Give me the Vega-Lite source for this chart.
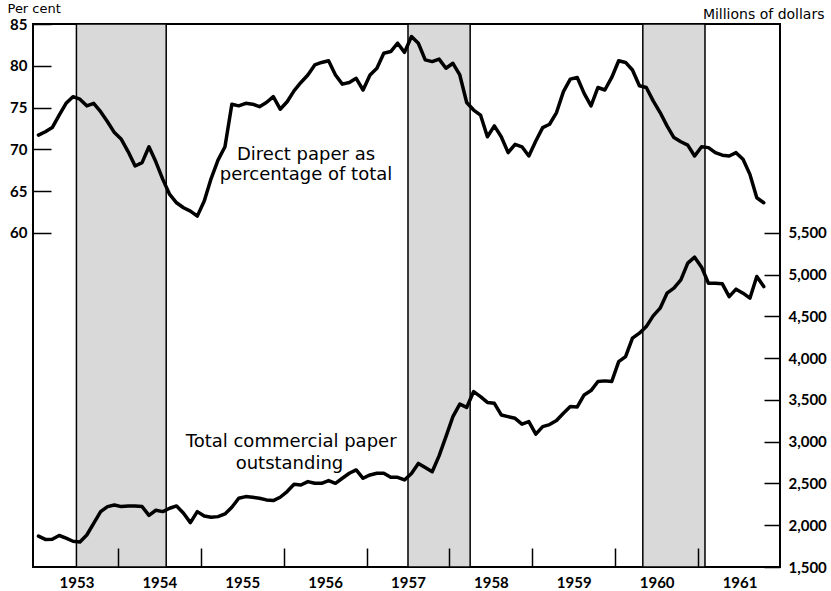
{
  "$schema": "https://vega.github.io/schema/vega-lite/v6.json",
  "width": 747,
  "height": 543,
  "autosize": {"type": "none"},
  "padding": {"left": 33, "top": 24, "right": 51, "bottom": 24},
  "background": "white",
  "config": {"view": {"stroke": "black", "strokeWidth": 2}, "font": "DejaVu Sans"},
  "datasets": {
    "bands": [
      {"t": 1953.5, "t2": 1954.583},
      {"t": 1957.5, "t2": 1958.25},
      {"t": 1960.333, "t2": 1961.083}
    ],
    "pctNotes": [
      {"t": 1956.27, "pct": 69.3, "label": "Direct paper as"},
      {"t": 1956.27, "pct": 66.9, "label": "percentage of total"}
    ],
    "totalNotes": [
      {"t": 1956.09, "total": 2996, "label": "Total commercial paper"},
      {"t": 1956.07, "total": 2732, "label": "outstanding"}
    ],
    "series": [
      {"t": 1953.042, "pct": 71.7, "total": 1870},
      {"t": 1953.125, "pct": 72.1, "total": 1830},
      {"t": 1953.208, "pct": 72.6, "total": 1832},
      {"t": 1953.292, "pct": 74.1, "total": 1877},
      {"t": 1953.375, "pct": 75.5, "total": 1845},
      {"t": 1953.458, "pct": 76.3, "total": 1808},
      {"t": 1953.542, "pct": 76.0, "total": 1800},
      {"t": 1953.625, "pct": 75.2, "total": 1883},
      {"t": 1953.708, "pct": 75.5, "total": 2023},
      {"t": 1953.792, "pct": 74.5, "total": 2163},
      {"t": 1953.875, "pct": 73.3, "total": 2223},
      {"t": 1953.958, "pct": 72.0, "total": 2243},
      {"t": 1954.042, "pct": 71.2, "total": 2223},
      {"t": 1954.125, "pct": 69.7, "total": 2231},
      {"t": 1954.208, "pct": 68.0, "total": 2231},
      {"t": 1954.292, "pct": 68.4, "total": 2223},
      {"t": 1954.375, "pct": 70.3, "total": 2119},
      {"t": 1954.458, "pct": 68.5, "total": 2179},
      {"t": 1954.542, "pct": 66.4, "total": 2163},
      {"t": 1954.625, "pct": 64.6, "total": 2203},
      {"t": 1954.708, "pct": 63.6, "total": 2231},
      {"t": 1954.792, "pct": 63.0, "total": 2143},
      {"t": 1954.875, "pct": 62.6, "total": 2031},
      {"t": 1954.958, "pct": 62.0, "total": 2163},
      {"t": 1955.042, "pct": 63.8, "total": 2111},
      {"t": 1955.125, "pct": 66.5, "total": 2095},
      {"t": 1955.208, "pct": 68.7, "total": 2103},
      {"t": 1955.292, "pct": 70.3, "total": 2135},
      {"t": 1955.375, "pct": 75.4, "total": 2215},
      {"t": 1955.458, "pct": 75.2, "total": 2323},
      {"t": 1955.542, "pct": 75.5, "total": 2343},
      {"t": 1955.625, "pct": 75.4, "total": 2335},
      {"t": 1955.708, "pct": 75.1, "total": 2323},
      {"t": 1955.792, "pct": 75.6, "total": 2303},
      {"t": 1955.875, "pct": 76.3, "total": 2295},
      {"t": 1955.958, "pct": 74.8, "total": 2335},
      {"t": 1956.042, "pct": 75.7, "total": 2403},
      {"t": 1956.125, "pct": 77.0, "total": 2490},
      {"t": 1956.208, "pct": 78.0, "total": 2482},
      {"t": 1956.292, "pct": 78.9, "total": 2522},
      {"t": 1956.375, "pct": 80.1, "total": 2502},
      {"t": 1956.458, "pct": 80.4, "total": 2502},
      {"t": 1956.542, "pct": 80.6, "total": 2534},
      {"t": 1956.625, "pct": 78.9, "total": 2502},
      {"t": 1956.708, "pct": 77.8, "total": 2562},
      {"t": 1956.792, "pct": 78.0, "total": 2622},
      {"t": 1956.875, "pct": 78.5, "total": 2662},
      {"t": 1956.958, "pct": 77.1, "total": 2562},
      {"t": 1957.042, "pct": 78.9, "total": 2602},
      {"t": 1957.125, "pct": 79.7, "total": 2622},
      {"t": 1957.208, "pct": 81.5, "total": 2622},
      {"t": 1957.292, "pct": 81.7, "total": 2574},
      {"t": 1957.375, "pct": 82.7, "total": 2574},
      {"t": 1957.458, "pct": 81.6, "total": 2542},
      {"t": 1957.542, "pct": 83.5, "total": 2620},
      {"t": 1957.625, "pct": 82.7, "total": 2740},
      {"t": 1957.708, "pct": 80.7, "total": 2690},
      {"t": 1957.792, "pct": 80.5, "total": 2640},
      {"t": 1957.875, "pct": 80.8, "total": 2830},
      {"t": 1957.958, "pct": 79.7, "total": 3060},
      {"t": 1958.042, "pct": 80.3, "total": 3300},
      {"t": 1958.125, "pct": 78.9, "total": 3450},
      {"t": 1958.208, "pct": 75.6, "total": 3410},
      {"t": 1958.292, "pct": 74.7, "total": 3600},
      {"t": 1958.375, "pct": 74.1, "total": 3540},
      {"t": 1958.458, "pct": 71.5, "total": 3470},
      {"t": 1958.542, "pct": 72.8, "total": 3460},
      {"t": 1958.625, "pct": 71.5, "total": 3320},
      {"t": 1958.708, "pct": 69.6, "total": 3300},
      {"t": 1958.792, "pct": 70.6, "total": 3280},
      {"t": 1958.875, "pct": 70.3, "total": 3210},
      {"t": 1958.958, "pct": 69.2, "total": 3240},
      {"t": 1959.042, "pct": 71.0, "total": 3090},
      {"t": 1959.125, "pct": 72.6, "total": 3181},
      {"t": 1959.208, "pct": 73.0, "total": 3205},
      {"t": 1959.292, "pct": 74.4, "total": 3253},
      {"t": 1959.375, "pct": 76.9, "total": 3340},
      {"t": 1959.458, "pct": 78.4, "total": 3420},
      {"t": 1959.542, "pct": 78.6, "total": 3416},
      {"t": 1959.625, "pct": 76.7, "total": 3560},
      {"t": 1959.708, "pct": 75.2, "total": 3612},
      {"t": 1959.792, "pct": 77.4, "total": 3720},
      {"t": 1959.875, "pct": 77.1, "total": 3728},
      {"t": 1959.958, "pct": 78.6, "total": 3720},
      {"t": 1960.042, "pct": 80.6, "total": 3959},
      {"t": 1960.125, "pct": 80.4, "total": 4019},
      {"t": 1960.208, "pct": 79.5, "total": 4239},
      {"t": 1960.292, "pct": 77.6, "total": 4299},
      {"t": 1960.375, "pct": 77.4, "total": 4378},
      {"t": 1960.458, "pct": 75.8, "total": 4506},
      {"t": 1960.542, "pct": 74.4, "total": 4598},
      {"t": 1960.625, "pct": 72.8, "total": 4778},
      {"t": 1960.708, "pct": 71.4, "total": 4838},
      {"t": 1960.792, "pct": 70.9, "total": 4937},
      {"t": 1960.875, "pct": 70.5, "total": 5137},
      {"t": 1960.958, "pct": 69.2, "total": 5209},
      {"t": 1961.042, "pct": 70.3, "total": 5089},
      {"t": 1961.125, "pct": 70.2, "total": 4897},
      {"t": 1961.208, "pct": 69.6, "total": 4897},
      {"t": 1961.292, "pct": 69.3, "total": 4890},
      {"t": 1961.375, "pct": 69.2, "total": 4737},
      {"t": 1961.458, "pct": 69.6, "total": 4826},
      {"t": 1961.542, "pct": 68.8, "total": 4778},
      {"t": 1961.625, "pct": 67.0, "total": 4718},
      {"t": 1961.708, "pct": 64.2, "total": 4977},
      {"t": 1961.792, "pct": 63.6, "total": 4857}
    ]
  },
  "encoding": {
    "x": {
      "field": "t",
      "type": "quantitative",
      "scale": {"domain": [1952.976, 1961.988], "nice": false, "zero": false},
      "axis": {
        "values": [1953.5, 1954.5, 1955.5, 1956.5, 1957.5, 1958.5, 1959.5, 1960.5, 1961.5],
        "labelExpr": "floor(datum.value)",
        "title": null,
        "grid": false,
        "domain": false,
        "zindex": 1,
        "labelFlush": false,
        "labelOverlap": false,
        "tickSize": -19,
        "tickOffset": -41.45,
        "labelOffset": 41.45,
        "tickWidth": 1.5,
        "tickColor": "black",
        "tickOpacity": {"condition": {"test": "datum.value < 1954", "value": 0}, "value": 1},
        "labelFont": "Lato",
        "labelFontSize": 15,
        "labelFontWeight": "bold",
        "labelColor": "black",
        "labelPadding": 27
      }
    }
  },
  "layer": [
    {
      "data": {"name": "bands"},
      "mark": {"type": "rect", "fill": "#d9d9d9", "stroke": "black", "strokeWidth": 1.5},
      "encoding": {"x2": {"field": "t2"}}
    },
    {
      "encoding": {
        "y": {
          "field": "pct",
          "type": "quantitative",
          "scale": {"domain": [20, 85], "nice": false, "zero": false},
          "axis": {
            "orient": "left",
            "values": [60, 65, 70, 75, 80, 85],
            "title": "Per cent",
            "titleAngle": 0,
            "titleAlign": "left",
            "titleBaseline": "middle",
            "titleX": -26,
            "titleY": -16,
            "titleFontSize": 13,
            "titleFontWeight": "normal",
            "titleColor": "black",
            "grid": false,
            "domain": false,
            "zindex": 1,
            "tickSize": -18,
            "tickWidth": 1.5,
            "tickColor": "black",
            "labelFont": "Lato",
            "labelFontSize": 15,
            "labelFontWeight": "bold",
            "labelColor": "black",
            "labelPadding": 24,
            "labelFlush": false,
            "labelOverlap": false
          }
        }
      },
      "layer": [
        {
          "data": {"name": "series"},
          "mark": {"type": "line", "color": "black", "strokeWidth": 3.5, "strokeJoin": "round", "strokeCap": "round"}
        },
        {
          "data": {"name": "pctNotes"},
          "mark": {"type": "text", "fontSize": 18, "color": "black", "align": "center", "baseline": "middle"},
          "encoding": {"text": {"field": "label"}}
        }
      ]
    },
    {
      "encoding": {
        "y": {
          "field": "total",
          "type": "quantitative",
          "scale": {"domain": [1500, 8000], "nice": false, "zero": false},
          "axis": {
            "orient": "right",
            "values": [1500, 2000, 2500, 3000, 3500, 4000, 4500, 5000, 5500],
            "format": ",d",
            "title": "Millions of dollars",
            "titleAngle": 0,
            "titleAlign": "right",
            "titleBaseline": "middle",
            "titleX": 44,
            "titleY": -10,
            "titleFontSize": 14,
            "titleFontWeight": "normal",
            "titleColor": "black",
            "grid": false,
            "domain": false,
            "zindex": 1,
            "tickSize": -16,
            "tickWidth": 1.5,
            "tickColor": "black",
            "labelFont": "Lato",
            "labelFontSize": 15,
            "labelFontWeight": "bold",
            "labelColor": "black",
            "labelPadding": 24,
            "labelFlush": false,
            "labelOverlap": false
          }
        }
      },
      "layer": [
        {
          "data": {"name": "series"},
          "mark": {"type": "line", "color": "black", "strokeWidth": 3.5, "strokeJoin": "round", "strokeCap": "round"}
        },
        {
          "data": {"name": "totalNotes"},
          "mark": {"type": "text", "fontSize": 18, "color": "black", "align": "center", "baseline": "middle"},
          "encoding": {"text": {"field": "label"}}
        }
      ]
    }
  ],
  "resolve": {"scale": {"y": "independent"}, "axis": {"y": "independent"}}
}
